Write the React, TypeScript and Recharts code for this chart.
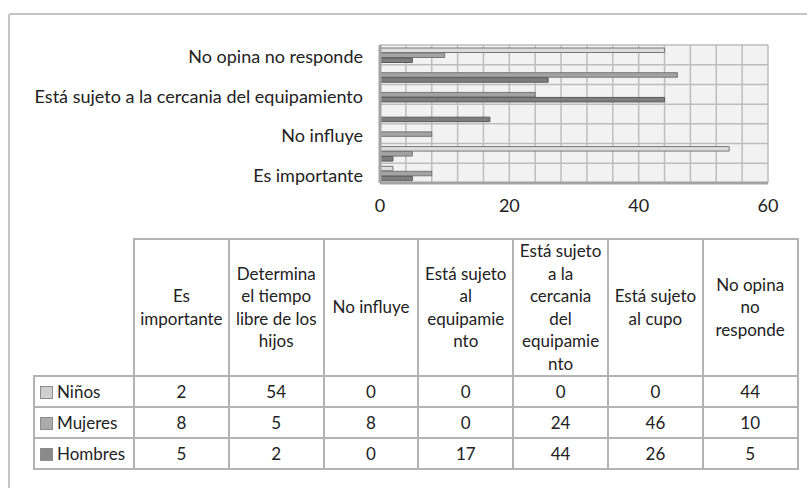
import React from "react";
import { BarChart, Bar, XAxis, YAxis, CartesianGrid } from "recharts";

const categories = [
  "Es importante",
  "Determina el tiempo libre de los hijos",
  "No influye",
  "Está sujeto al equipamiento",
  "Está sujeto a la cercania del equipamiento",
  "Está sujeto al cupo",
  "No opina no responde",
];

// wrapped header text as it appears in the table
const headerLines = [
  ["Es", "importante"],
  ["Determina", "el tiempo", "libre de los", "hijos"],
  ["No influye"],
  ["Está sujeto", "al", "equipamie", "nto"],
  ["Está sujeto", "a la", "cercania", "del", "equipamie", "nto"],
  ["Está sujeto", "al cupo"],
  ["No opina", "no", "responde"],
];

const ninos = [2, 54, 0, 0, 0, 0, 44];
const mujeres = [8, 5, 8, 0, 24, 46, 10];
const hombres = [5, 2, 0, 17, 44, 26, 5];

const xTicks = [0, 20, 40, 60];
const gridTicks = [0, 4, 8, 12, 16, 20, 24, 28, 32, 36, 40, 44, 48, 52, 56, 60];

const series = [
  { key: "ninos", name: "Niños", values: ninos, fill: "#dcdcdc", stroke: "#777", box: "#cfcfcf" },
  { key: "mujeres", name: "Mujeres", values: mujeres, fill: "#a3a3a3", stroke: "#777", box: "#ababab" },
  { key: "hombres", name: "Hombres", values: hombres, fill: "#7d7d7d", stroke: "#5a5a5a", box: "#8a8a8a" },
];

const data = categories.map((name, i) => ({
  name,
  ninos: ninos[i],
  mujeres: mujeres[i],
  hombres: hombres[i],
}));

const FONT = "Lato, 'Open Sans', sans-serif";
const border = "2px solid #b3b3b3";

export default function App() {
  return (
    <div
      style={{
        position: "absolute",
        left: 0,
        top: 0,
        width: 807,
        height: 488,
        background: "#fff",
        overflow: "hidden",
        fontFamily: FONT,
        color: "#222",
      }}
    >
      {/* outer chart frame */}
      <div
        style={{
          position: "absolute",
          left: 8,
          top: 13,
          width: 830,
          height: 520,
          border: "2px solid #c4c4c4",
          borderRadius: 3,
        }}
      />

      <div style={{ position: "absolute", left: 0, top: 0 }}>
        <BarChart
          width={807}
          height={230}
          data={data}
          layout="vertical"
          margin={{ top: 45, right: 39, bottom: 17, left: 0 }}
          barSize={4.5}
          barGap={0.5}
        >
          <CartesianGrid
            fill="#f2f2f2"
            stroke="#bdbdbd"
            strokeWidth={1.5}
            verticalValues={gridTicks}
            horizontalCoordinatesGenerator={({ offset }: any) =>
              categories.map((_, i) => offset.top + (offset.height / categories.length) * i).concat(offset.top + offset.height)
            }
          />
          <XAxis
            type="number"
            domain={[0, 60]}
            ticks={xTicks}
            height={30}
            axisLine={{ stroke: "#a3a3a3", strokeWidth: 3 }}
            tickLine={false}
            tickSize={0}
            tickMargin={16}
            tick={{ fontSize: 18, fill: "#222", fontFamily: FONT }}
          />
          <YAxis
            type="category"
            dataKey="name"
            reversed
            interval={1}
            width={380}
            axisLine={{ stroke: "#a3a3a3", strokeWidth: 3 }}
            tickLine={false}
            tickSize={0}
            tickMargin={17}
            tick={{ fontSize: 18, fill: "#222", fontFamily: FONT, dy: 2 }}
          />
          {series.map((s) => (
            <Bar
              key={s.key}
              dataKey={s.key}
              name={s.name}
              fill={s.fill}
              stroke={s.stroke}
              strokeWidth={1}
              isAnimationActive={false}
            />
          ))}
        </BarChart>
      </div>

      {/* data table */}
      <table
        style={{
          position: "absolute",
          left: 33,
          top: 238,
          width: 764,
          borderCollapse: "collapse",
          tableLayout: "fixed",
          fontSize: 17,
          fontFamily: FONT,
          color: "#222",
        }}
      >
        <colgroup>
          <col style={{ width: 100 }} />
          {categories.map((c) => (
            <col key={c} style={{ width: 94.8 }} />
          ))}
        </colgroup>
        <tbody>
          <tr style={{ height: 137 }}>
            <td style={{ borderTop: "none", borderLeft: "none", borderRight: border, borderBottom: border }} />
            {headerLines.map((lines, i) => (
              <td
                key={i}
                style={{
                  border,
                  textAlign: "center",
                  verticalAlign: "middle",
                  lineHeight: "22.5px",
                  padding: 0,
                }}
              >
                {lines.map((l, j) => (
                  <div key={j}>{l}</div>
                ))}
              </td>
            ))}
          </tr>
          {series.map((s) => (
            <tr key={s.key} style={{ height: 31 }}>
              <td style={{ border, padding: "0 0 0 5px", whiteSpace: "nowrap" }}>
                <span
                  style={{
                    display: "inline-block",
                    width: 11,
                    height: 11,
                    background: s.box,
                    border: "1px solid #8c8c8c",
                    marginRight: 4,
                    verticalAlign: "-1px",
                  }}
                />
                {s.name}
              </td>
              {s.values.map((v, i) => (
                <td key={i} style={{ border, textAlign: "center", padding: 0 }}>
                  {v}
                </td>
              ))}
            </tr>
          ))}
        </tbody>
      </table>
    </div>
  );
}
